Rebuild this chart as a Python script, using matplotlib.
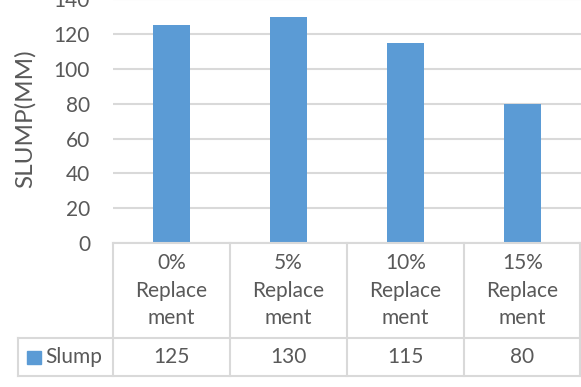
import matplotlib
matplotlib.use("Agg")
import matplotlib.pyplot as plt
from matplotlib.lines import Line2D
from matplotlib.patches import Rectangle
import matplotlib.transforms as mtransforms

categories = ["0%\nReplace\nment", "5%\nReplace\nment", "10%\nReplace\nment", "15%\nReplace\nment"]
series_name = "Slump"
values = [125, 130, 115, 80]
yticks = [0, 20, 40, 60, 80, 100, 120, 140]

W, H = 581, 387
TXT = "#595959"
GRID = "#d9d9d9"
BAR = "#5b9bd5"
FONT = "Lato"
FS = 15

plt.rcParams['font.family'] = [FONT, 'DejaVu Sans']

fig = plt.figure(figsize=(W / 100, H / 100), dpi=100)

def fy(py):
    return 1 - py / H

def fx(px):
    return px / W

x_left, x_right = 113, 581
y_zero = 243
y_top = -0.8
ax = fig.add_axes([fx(x_left), fy(y_zero), fx(x_right) - fx(x_left), fy(y_top) - fy(y_zero)])
ax.set_xlim(-0.5, len(values) - 0.5)
ax.set_ylim(0, 140)
ax.bar(range(len(values)), values, width=0.32, color=BAR, zorder=3)
ax.set_yticks(yticks)
ax.yaxis.grid(True, color=GRID, linewidth=1.5, zorder=0)
ax.set_xticks([])
for s in ax.spines.values():
    s.set_visible(False)
ax.tick_params(axis='y', length=0, pad=16.5, labelsize=FS, labelcolor=TXT)

fig.text(fx(25), fy(119), "SLUMP(MM)", rotation=90, ha='center', va='center',
         fontsize=17.5, color=TXT)

# data table
trans = mtransforms.blended_transform_factory(ax.transData, fig.transFigure)
lw = 1.5
def hline(x0, x1, py):
    fig.add_artist(Line2D([fx(x0), fx(x1)], [fy(py), fy(py)], color=GRID, lw=lw))
def vline(px, y0, y1):
    fig.add_artist(Line2D([fx(px), fx(px)], [fy(y0), fy(y1)], color=GRID, lw=lw))

y_mid, y_bot = 338, 376
hline(x_left, x_right, y_zero)
hline(18, x_right, y_mid)
hline(18, x_right, y_bot)
vline(18, y_mid, y_bot)
for i in range(len(values) + 1):
    px = x_left + i * (x_right - x_left) / len(values)
    px = min(px, x_right - 1.5)
    vline(px, y_zero, y_bot)

line_y = [263, 291, 318]
for i, (c, v) in enumerate(zip(categories, values)):
    for part, py in zip(c.split("\n"), line_y):
        ax.text(i, fy(py), part, transform=trans, ha='center', va='center',
                fontsize=FS, color=TXT)
    ax.text(i, fy(357), str(v), transform=trans, ha='center', va='center',
            fontsize=FS, color=TXT)

fig.add_artist(Rectangle((fx(27), fy(364)), fx(14), 13 / H, color=BAR,
                         transform=fig.transFigure))
fig.text(fx(45), fy(357), series_name, ha='left', va='center', fontsize=FS, color=TXT)

fig.savefig("out.png", dpi=100)
